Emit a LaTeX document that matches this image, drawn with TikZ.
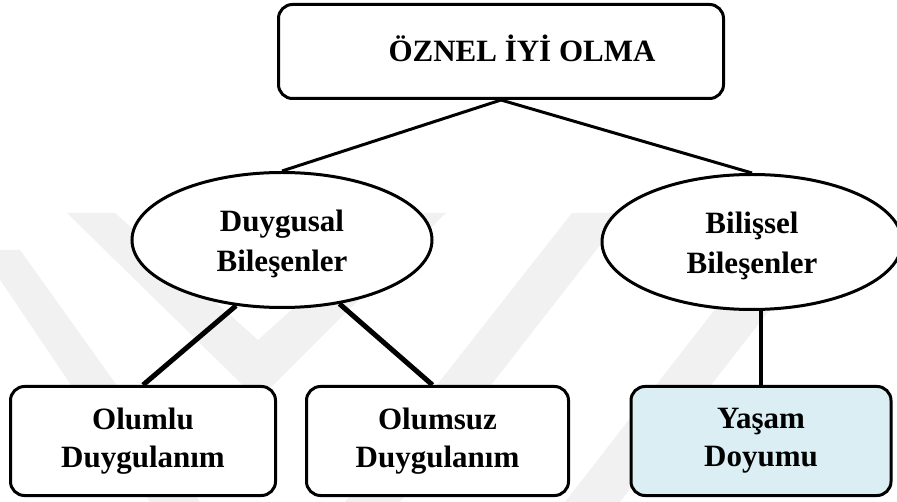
\documentclass[tikz,border=0pt]{standalone}
\usepackage{fontspec}
\setmainfont{Liberation Serif}
\usetikzlibrary{shapes.geometric}
\definecolor{lifefill}{HTML}{DAEEF3}
\definecolor{markgray}{HTML}{F1F1F1}
\tikzset{
  txt/.style={font=\fontsize{31}{38}\selectfont\bfseries, align=center, text=black},
  rbox/.style={txt, draw=black, line width=3pt, rounded corners=14pt, fill=white,
               minimum width=265pt, minimum height=109pt, inner sep=0pt},
  oval/.style={txt, font=\fontsize{31}{40}\selectfont\bfseries, draw=black,
               line width=3pt, ellipse, fill=white,
               minimum width=300pt, minimum height=135pt, inner sep=0pt},
  thin/.style={line width=3pt},
  thick/.style={line width=5pt},
  mid/.style={line width=4pt}
}
\begin{document}
\begin{tikzpicture}[x=1pt, y=-1pt]
  \useasboundingbox (0,0) rectangle (897,502);
  \fill[white] (0,0) rectangle (897,502);

  % faint chevron watermark in the background
  \begin{scope}
    \clip (0,0) rectangle (897,502);
    \fill[markgray] (67,213) -- (115,213) -- (258,340) -- (400,213) -- (446,213)
                    -- (258,400) -- cycle;
    \fill[markgray] (-20,250) -- (20,250) -- (200,502) -- (150,502) -- cycle;
    \fill[markgray] (572,213) -- (625,213) -- (400,502) -- (345,502) -- cycle;
    \fill[markgray] (790,213) -- (845,213) -- (620,502) -- (565,502) -- cycle;
  \end{scope}

  % boxes and ovals
  \node[rbox, minimum width=445pt, minimum height=94pt] (top) at (501,51.5) {};
  \node[txt, anchor=base] (toptext) at (522,62) {ÖZNEL İYİ OLMA};

  \node[oval] (duy) at (282,240) {\rule{0pt}{30pt}Duygusal\\Bileşenler};
  \node[oval] (bil) at (752,242) {\rule{0pt}{30pt}Bilişsel\\Bileşenler};

  \node[rbox] (olumlu) at (143,441) {Olumlu\\Duygulanım};
  \node[rbox, minimum width=262pt] (olumsuz) at (437.5,441) {Olumsuz\\Duygulanım};
  \node[rbox, minimum width=260pt, fill=lifefill] (yasam) at (761,441) {Yaşam\\Doyumu};

  % connectors
  \draw[thin] (top.south) -- (duy.north);
  \draw[thin] (top.south) -- (bil.north);
  \draw[thick] (duy.235) -- (olumlu.north);
  \draw[thick] (duy.-48) -- ([xshift=-5pt]olumsuz.north);
  \draw[mid] (yasam.north) -- (yasam.north |- bil.south);
\end{tikzpicture}
\end{document}
